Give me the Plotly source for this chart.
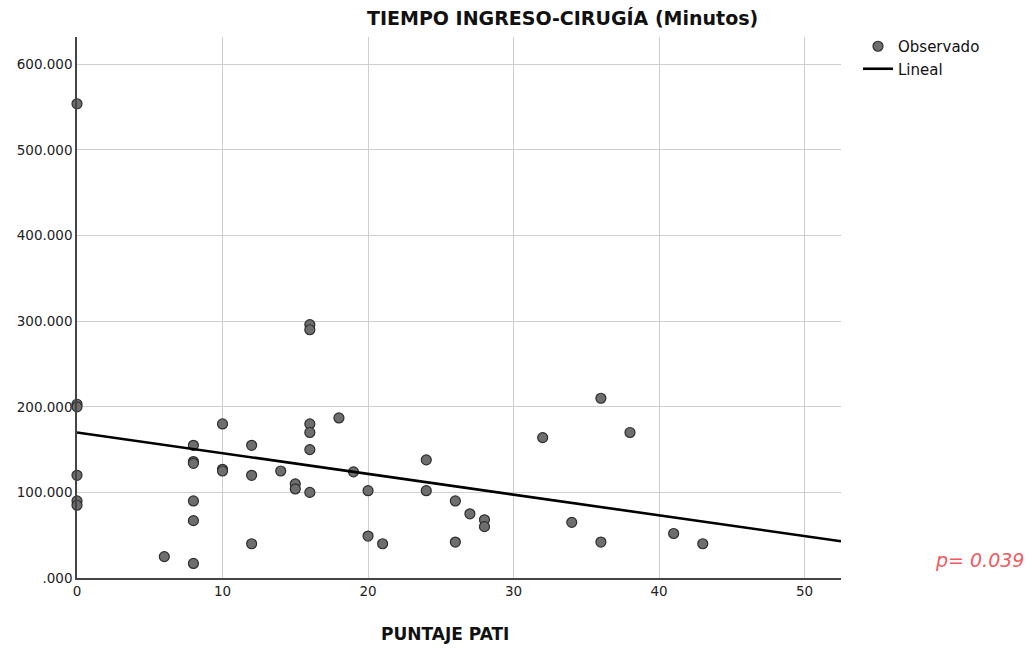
import plotly.graph_objects as go

# Data
puntaje_pati = [0, 0, 0, 0, 0, 0,
                6,
                8, 8, 8, 8, 8, 8,
                10, 10, 10,
                12, 12, 12,
                14,
                15, 15,
                16, 16, 16, 16, 16, 16,
                18, 19, 20, 20, 21,
                24, 24, 26, 26, 27, 28, 28,
                32, 34, 36, 36, 38, 41, 43]
tiempo_min = [554, 203, 200, 120, 90, 85,
              25,
              155, 136, 134, 90, 67, 17,
              180, 127, 125,
              155, 120, 40,
              125,
              110, 104,
              296, 290, 180, 170, 150, 100,
              187, 124, 102, 49, 40,
              138, 102, 90, 42, 75, 68, 60,
              164, 65, 210, 42, 170, 52, 40]

# Linear fit
fit_intercept = 170.0
fit_slope = -2.42
x_range = [0, 52.5]
y_range = [0, 632]

y_tickvals = [0, 100, 200, 300, 400, 500, 600]
y_ticktext = [".000", "100.000", "200.000", "300.000", "400.000", "500.000", "600.000"]
x_tickvals = [0, 10, 20, 30, 40, 50]

W, H = 1030, 648
L, T, R, B = 77, 37, 1030 - 841, 648 - 578
PW = W - L - R
PH = H - T - B

fig = go.Figure()
fig.add_trace(go.Scatter(
    x=puntaje_pati, y=tiempo_min, mode="markers", name="Observado",
    marker=dict(size=10, color="#6e6e6e", line=dict(color="#2e2e2e", width=1.2)),
    cliponaxis=False,
))
fit_x = x_range
fit_y = [fit_intercept + fit_slope * v for v in fit_x]
fig.add_trace(go.Scatter(
    x=fit_x, y=fit_y, mode="lines", name="Lineal",
    line=dict(color="#000000", width=2.6),
))

fig.update_layout(
    width=W, height=H,
    margin=dict(l=L, r=R, t=T, b=B),
    paper_bgcolor="white", plot_bgcolor="white",
    font=dict(family="DejaVu Sans", size=13, color="#222222"),
    showlegend=True,
    legend=dict(x=(858 - 77) / PW, y=1.0 + 7 / PH, xanchor="left", yanchor="top",
                font=dict(size=15, color="#111111"),
                tracegroupgap=0, itemwidth=30,
                bgcolor="rgba(0,0,0,0)"),
    xaxis=dict(range=x_range, tickvals=x_tickvals, showgrid=True,
               gridcolor="#cfcfcf", gridwidth=1.2, zeroline=False,
               showline=True, linecolor="#444444", linewidth=1.5,
               ticks="", ticklen=0, tickfont=dict(size=13.5, color="#222222")),
    yaxis=dict(range=y_range, tickvals=y_tickvals, ticktext=y_ticktext,
               showgrid=True, gridcolor="#cfcfcf", gridwidth=1.2, zeroline=False,
               showline=True, linecolor="#444444", linewidth=1.5,
               ticks="", tickfont=dict(size=13.5, color="#222222")),
)

fig.add_annotation(text="<b>TIEMPO INGRESO-CIRUGÍA (Minutos)</b>",
                   xref="paper", yref="paper", x=(562 - 77) / PW, y=1.0,
                   yshift=6, xanchor="center", yanchor="bottom", showarrow=False,
                   font=dict(family="DejaVu Sans", size=19, color="#111111"))
fig.add_annotation(text="<b>PUNTAJE PATI</b>",
                   xref="paper", yref="paper", x=(445 - 77) / PW, y=0,
                   yshift=-44, xanchor="center", yanchor="top", showarrow=False,
                   font=dict(family="DejaVu Sans", size=17, color="#111111"))
fig.add_annotation(text="<i>p= 0.039</i>",
                   xref="paper", yref="paper", x=(1026 - 77) / PW, y=(578 - 560) / PH,
                   xanchor="right", yanchor="middle", showarrow=False,
                   font=dict(family="DejaVu Sans", size=19, color="#f05a5f"))

fig.write_html("out.html",
               config={"displayModeBar": False},
               post_script="document.body.style.margin='0';document.body.style.overflow='hidden';")
